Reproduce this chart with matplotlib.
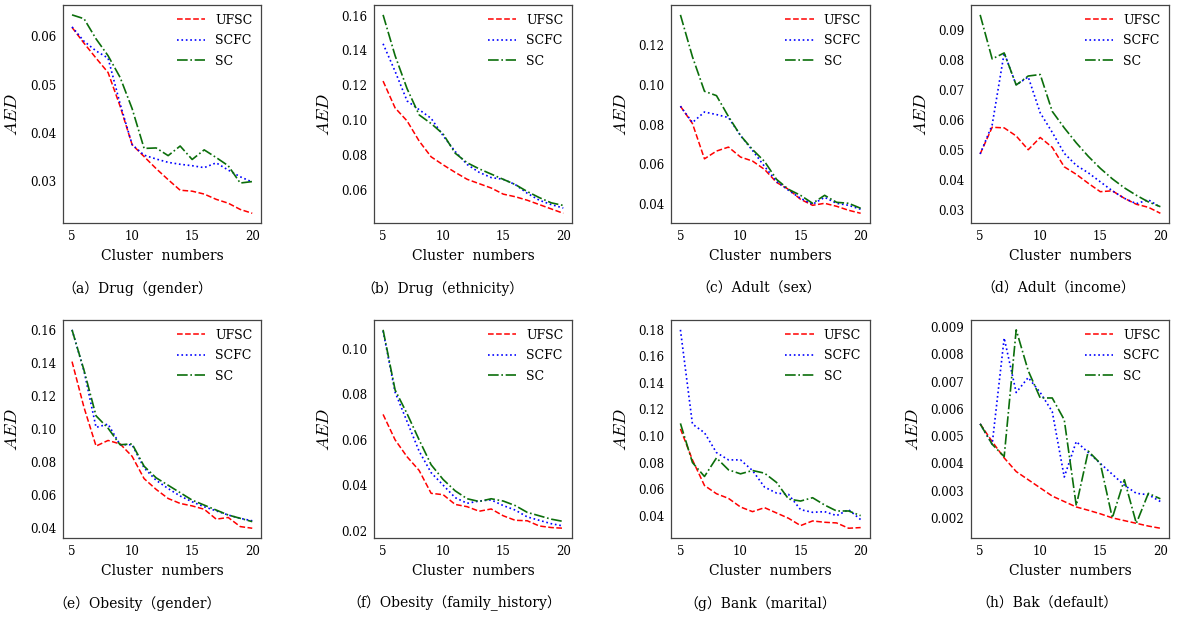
import numpy as np
import matplotlib
matplotlib.use('Agg')
import matplotlib.pyplot as plt
from matplotlib.ticker import MultipleLocator

plt.rcParams['font.family'] = ['DejaVu Serif', 'Noto Sans CJK SC']
plt.rcParams['mathtext.fontset'] = 'cm'

# cluster numbers on the x axis
k = np.arange(5, 21)

captions = ['（a）Drug（gender）', '（b）Drug（ethnicity）', '（c）Adult（sex）',
            '（d）Adult（income）', '（e）Obesity（gender）',
            '（f）Obesity（family_history）', '（g）Bank（marital）', '（h）Bak（default）']

# AED values, one list per method and panel
ufsc_a = [0.0619, 0.0586, 0.0555, 0.0525, 0.0455, 0.0375, 0.0350, 0.0325, 0.0302, 0.0280,
          0.0278, 0.0272, 0.0261, 0.0253, 0.0240, 0.0232]
scfc_a = [0.0620, 0.0590, 0.0570, 0.0555, 0.0460, 0.0375, 0.0353, 0.0345, 0.0338, 0.0334,
          0.0331, 0.0327, 0.0337, 0.0322, 0.0308, 0.0297]
sc_a = [0.0645, 0.0637, 0.0595, 0.0560, 0.0515, 0.0450, 0.0367, 0.0368, 0.0352, 0.0372,
        0.0344, 0.0364, 0.0348, 0.0331, 0.0295, 0.0298]

ufsc_b = [0.1224, 0.1070, 0.0995, 0.0880, 0.0789, 0.0743, 0.0700, 0.0660, 0.0635, 0.0610,
          0.0575, 0.0560, 0.0540, 0.0515, 0.0490, 0.0465]
scfc_b = [0.1438, 0.1280, 0.1110, 0.1060, 0.1010, 0.0910, 0.0820, 0.0745, 0.0700, 0.0670,
          0.0660, 0.0630, 0.0580, 0.0540, 0.0515, 0.0495]
sc_b = [0.1604, 0.1370, 0.1180, 0.1030, 0.0980, 0.0920, 0.0810, 0.0755, 0.0720, 0.0690,
        0.0660, 0.0630, 0.0590, 0.0555, 0.0525, 0.0510]

ufsc_c = [0.0892, 0.0805, 0.0628, 0.0667, 0.0687, 0.0637, 0.0617, 0.0575, 0.0510, 0.0475,
          0.0425, 0.0395, 0.0405, 0.0390, 0.0370, 0.0355]
scfc_c = [0.0892, 0.0810, 0.0863, 0.0850, 0.0835, 0.0745, 0.0670, 0.0590, 0.0515, 0.0470,
          0.0430, 0.0400, 0.0435, 0.0405, 0.0395, 0.0375]
sc_c = [0.1350, 0.1140, 0.0967, 0.0945, 0.0840, 0.0745, 0.0675, 0.0615, 0.0525, 0.0475,
        0.0445, 0.0405, 0.0445, 0.0410, 0.0405, 0.0380]

ufsc_d = [0.0488, 0.0577, 0.0575, 0.0548, 0.0502, 0.0543, 0.0510, 0.0445, 0.0420, 0.0390,
          0.0362, 0.0365, 0.0340, 0.0320, 0.0310, 0.0290]
scfc_d = [0.0488, 0.0585, 0.0825, 0.0718, 0.0745, 0.0625, 0.0560, 0.0490, 0.0450, 0.0425,
          0.0395, 0.0365, 0.0340, 0.0322, 0.0335, 0.0310]
sc_d = [0.0952, 0.0805, 0.0825, 0.0718, 0.0748, 0.0753, 0.0630, 0.0575, 0.0525, 0.0480,
        0.0440, 0.0405, 0.0375, 0.0350, 0.0328, 0.0312]

ufsc_e = [0.1408, 0.1130, 0.0897, 0.0931, 0.0910, 0.0835, 0.0700, 0.0635, 0.0580, 0.0550,
          0.0535, 0.0515, 0.0455, 0.0465, 0.0410, 0.0400]
scfc_e = [0.1600, 0.1350, 0.1010, 0.1030, 0.0905, 0.0905, 0.0765, 0.0690, 0.0640, 0.0595,
          0.0560, 0.0530, 0.0505, 0.0480, 0.0460, 0.0445]
sc_e = [0.1600, 0.1355, 0.1080, 0.1005, 0.0905, 0.0910, 0.0775, 0.0705, 0.0660, 0.0615,
        0.0570, 0.0540, 0.0510, 0.0480, 0.0460, 0.0440]

ufsc_f = [0.0712, 0.0600, 0.0525, 0.0465, 0.0364, 0.0358, 0.0315, 0.0305, 0.0285, 0.0295,
          0.0265, 0.0245, 0.0243, 0.0220, 0.0213, 0.0210]
scfc_f = [0.1080, 0.0810, 0.0680, 0.0550, 0.0455, 0.0400, 0.0345, 0.0320, 0.0330, 0.0335,
          0.0310, 0.0290, 0.0260, 0.0245, 0.0230, 0.0220]
sc_f = [0.1085, 0.0820, 0.0715, 0.0600, 0.0490, 0.0425, 0.0375, 0.0340, 0.0328, 0.0340,
        0.0330, 0.0310, 0.0280, 0.0265, 0.0250, 0.0240]

ufsc_g = [0.1054, 0.0820, 0.0627, 0.0565, 0.0530, 0.0465, 0.0430, 0.0460, 0.0420, 0.0380,
          0.0325, 0.0360, 0.0350, 0.0345, 0.0305, 0.0310]
scfc_g = [0.1800, 0.1090, 0.1025, 0.0875, 0.0820, 0.0820, 0.0740, 0.0615, 0.0570, 0.0560,
          0.0445, 0.0425, 0.0430, 0.0400, 0.0445, 0.0370]
sc_g = [0.1095, 0.0800, 0.0695, 0.0835, 0.0745, 0.0715, 0.0740, 0.0720, 0.0650, 0.0525,
        0.0510, 0.0535, 0.0480, 0.0435, 0.0435, 0.0400]

ufsc_h = [0.00545, 0.00480, 0.00420, 0.00370, 0.00340, 0.00310, 0.00280, 0.00260, 0.00240,
          0.00228, 0.00215, 0.00200, 0.00190, 0.00180, 0.00170, 0.00162]
scfc_h = [0.00545, 0.00470, 0.00860, 0.00660, 0.00715, 0.00660, 0.00590, 0.00350, 0.00480,
          0.00440, 0.00400, 0.00360, 0.00320, 0.00290, 0.00285, 0.00260]
sc_h = [0.00545, 0.00470, 0.00425, 0.00890, 0.00740, 0.00640, 0.00640, 0.00560, 0.00245,
        0.00445, 0.00400, 0.00200, 0.00340, 0.00180, 0.00290, 0.00270]

ufsc = [ufsc_a, ufsc_b, ufsc_c, ufsc_d, ufsc_e, ufsc_f, ufsc_g, ufsc_h]
scfc = [scfc_a, scfc_b, scfc_c, scfc_d, scfc_e, scfc_f, scfc_g, scfc_h]
sc = [sc_a, sc_b, sc_c, sc_d, sc_e, sc_f, sc_g, sc_h]

# y tick step per panel
ystep = [0.01, 0.02, 0.02, 0.01, 0.02, 0.02, 0.02, 0.001]

# axes placement in figure fractions (left, bottom) and caption centre x
lefts = [0.0534, 0.317, 0.569, 0.823]
bottoms = [0.640, 0.132]
cap_x = [0.116, 0.375, 0.643, 0.897, 0.116, 0.385, 0.644, 0.887]

fig = plt.figure(figsize=(11.8, 6.2), dpi=100)

for i in range(8):
    row, col = divmod(i, 4)
    ax = fig.add_axes([lefts[col], bottoms[row], 0.168, 0.352])
    ax.plot(k, ufsc[i], color='red', linestyle='--', lw=1.1, label='UFSC')
    ax.plot(k, scfc[i], color='blue', linestyle=':', lw=1.2, label='SCFC')
    ax.plot(k, sc[i], color='#0b6e0b', linestyle='-.', lw=1.2, label='SC')
    ax.xaxis.set_major_locator(MultipleLocator(5))
    ax.yaxis.set_major_locator(MultipleLocator(ystep[i]))
    ax.tick_params(length=0, labelsize=8.5, pad=5)
    for s in ax.spines.values():
        s.set_color('#444444')
        s.set_linewidth(0.9)
    ax.set_xlabel('Cluster  numbers', fontsize=10, labelpad=4)
    ax.set_ylabel('$AED$', fontsize=13, labelpad=6)
    ax.legend(loc='upper right', frameon=False, fontsize=9, handlelength=2.3,
              labelspacing=0.6, borderaxespad=0.3)
    yc = bottoms[row] - 0.105
    fig.text(cap_x[i], yc, captions[i], ha='center', va='center', fontsize=10)

fig.savefig('out.png', dpi=100)
